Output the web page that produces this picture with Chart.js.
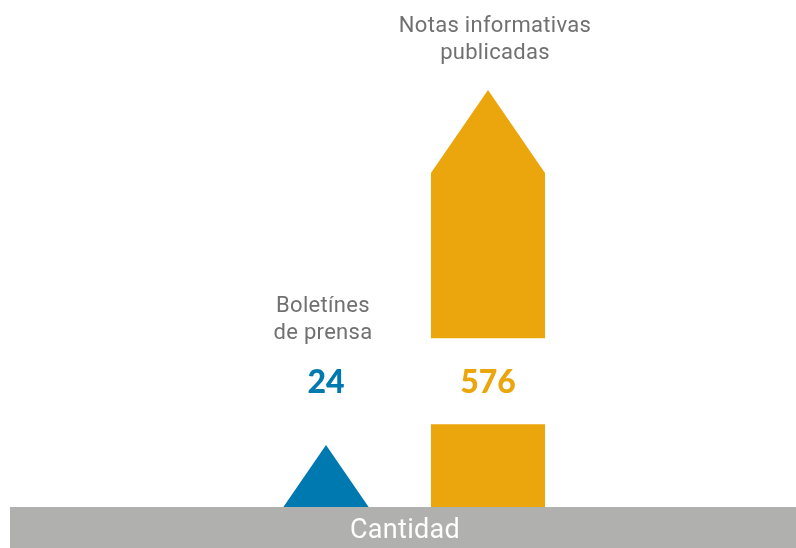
<!DOCTYPE html>
<html>
<head>
<meta charset="utf-8">
<script src="https://cdn.jsdelivr.net/npm/chart.js@4.4.1/dist/chart.umd.min.js"></script>
<style>
  html, body { margin: 0; padding: 0; background: #ffffff; }
  #grafico { display: block; }
</style>
</head>
<body>
<canvas id="grafico" width="796" height="548"></canvas>
<script>
// datos
const categorias = [['Boletínes', 'de prensa'], ['Notas informativas', 'publicadas']];
const cantidades = [24, 576];
const colores = ['#0079B0', '#ECA60D'];
const tituloEje = 'Cantidad';
// tramo del eje que se omite (eje cortado)
const corte = [32, 480];

// escala lineal con un tramo omitido: deja un hueco en pixeles entre corte[0] y corte[1]
class EscalaCortada extends Chart.LinearScale {
  _unidades(v) {
    const c = this.options.corte;
    if (v <= c[0]) return v - this.min;
    if (v >= c[1]) return (c[0] - this.min) + (v - c[1]);
    return c[0] - this.min;
  }
  _pxPorUnidad() {
    const total = this._unidades(this.max);
    return (this.bottom - this.top - this.options.hueco) / total;
  }
  getPixelForValue(v) {
    const c = this.options.corte;
    const k = this._pxPorUnidad();
    let px = this.bottom - this._unidades(v) * k;
    if (v >= c[1]) px -= this.options.hueco;
    return px;
  }
  getValueForPixel(p) {
    const c = this.options.corte;
    const k = this._pxPorUnidad();
    const inferior = this.bottom - (c[0] - this.min) * k;
    if (p >= inferior) return this.min + (this.bottom - p) / k;
    const superior = inferior - this.options.hueco;
    if (p > superior) return c[0];
    return c[1] + (superior - p) / k;
  }
}
EscalaCortada.id = 'cortada';
EscalaCortada.defaults = Chart.LinearScale.defaults;
Chart.register(EscalaCortada);

const FLECHA = 0.728; // alto de la punta respecto al ancho de la barra

// dibuja barras con punta, el hueco del corte, los valores y la banda inferior
const pictograma = {
  id: 'pictograma',
  beforeDatasetDraw(chart, args) {
    const ctx = chart.ctx;
    const area = chart.chartArea;
    const y = chart.scales.y;
    const hTop = y.getPixelForValue(corte[1]);
    const hBot = y.getPixelForValue(corte[0]);
    ctx.save();
    ctx.beginPath();
    ctx.rect(0, 0, chart.width, hTop);
    ctx.rect(0, hBot, chart.width, area.bottom - hBot);
    ctx.clip();
    args.meta.data.forEach((bar, i) => {
      const p = bar.getProps(['x', 'y', 'base', 'width'], true);
      const m = p.width / 2;
      const ah = p.width * FLECHA;
      ctx.fillStyle = colores[i];
      ctx.beginPath();
      ctx.moveTo(p.x - m, p.base);
      ctx.lineTo(p.x - m, p.y + ah);
      ctx.lineTo(p.x, p.y);
      ctx.lineTo(p.x + m, p.y + ah);
      ctx.lineTo(p.x + m, p.base);
      ctx.closePath();
      ctx.fill();
    });
    ctx.restore();
    return false;
  },
  afterDatasetsDraw(chart) {
    const ctx = chart.ctx;
    const area = chart.chartArea;
    const y = chart.scales.y;
    const fila = (y.getPixelForValue(corte[1]) + y.getPixelForValue(corte[0])) / 2;
    const meta = chart.getDatasetMeta(0);

    ctx.save();
    ctx.textAlign = 'center';
    ctx.textBaseline = 'middle';
    meta.data.forEach((bar, i) => {
      // valor
      ctx.letterSpacing = '0px';
      ctx.font = '900 32px Lato, "DejaVu Sans", sans-serif';
      ctx.fillStyle = colores[i];
      ctx.fillText(String(cantidades[i]), bar.x, fila + 1);
      // nombre de la categoria
      const ancla = Math.min(bar.y, fila - 11) - 37;
      const lineas = categorias[i];
      ctx.font = '22px Roboto, "DejaVu Sans", sans-serif';
      ctx.letterSpacing = '0.3px';
      ctx.fillStyle = '#707070';
      lineas.forEach((t, j) => {
        ctx.fillText(t, bar.x + (i === 0 ? -3 : 7), ancla - (lineas.length - 1 - j) * 27);
      });
    });

    // banda gris del eje
    ctx.fillStyle = '#B0B0AF';
    ctx.fillRect(10, area.bottom, chart.width - 10, chart.height - area.bottom);
    ctx.fillStyle = '#ffffff';
    ctx.letterSpacing = '0.3px';
    ctx.font = '27px Roboto, "DejaVu Sans", sans-serif';
    ctx.fillText(tituloEje, (10 + chart.width) / 2 + 2, (area.bottom + chart.height) / 2 + 4);
    ctx.restore();
  }
};

new Chart(document.getElementById('grafico'), {
  type: 'bar',
  data: {
    labels: categorias,
    datasets: [{
      data: cantidades,
      backgroundColor: colores,
      barPercentage: 1,
      categoryPercentage: 0.704
    }]
  },
  options: {
    responsive: false,
    animation: false,
    layout: { padding: { top: 90, bottom: 41, left: 245, right: 227 } },
    plugins: { legend: { display: false }, tooltip: { enabled: false } },
    scales: {
      x: { display: false },
      y: { type: 'cortada', display: false, min: 0, max: 576, corte: corte, hueco: 86 }
    }
  },
  plugins: [pictograma]
});
</script>
</body>
</html>
